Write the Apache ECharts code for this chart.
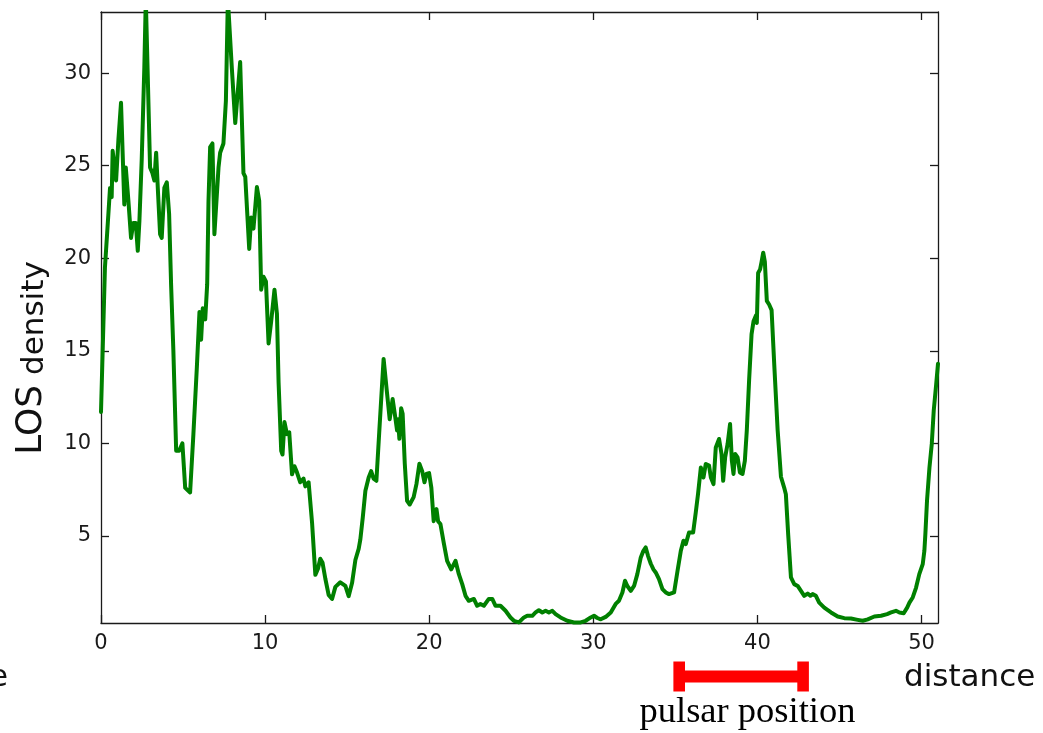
<!DOCTYPE html>
<html>
<head>
<meta charset="utf-8">
<script src="https://cdn.jsdelivr.net/npm/echarts@6/dist/echarts.min.js"></script>
<style>
html,body{margin:0;padding:0;background:#fff;}
#chart{width:1043px;height:733px;}
</style>
</head>
<body>
<div id="chart"></div>
<script>
const distance = [0, 0.24, 0.45, 0.55, 0.65, 0.71, 0.81, 0.92, 0.98, 1.06,
  1.22, 1.30, 1.42, 1.51, 1.60, 1.67, 1.83, 1.97, 2.12, 2.24,
  2.34, 2.48, 2.64, 2.73, 2.85, 2.99, 3.13, 3.25, 3.36, 3.46,
  3.60, 3.70, 3.86, 4.01, 4.15, 4.27, 4.41, 4.58, 4.76, 4.96,
  5.13, 5.43, 5.63, 5.84, 6.00, 6.10, 6.20, 6.35, 6.47, 6.55,
  6.65, 6.79, 6.91, 7.02, 7.16, 7.26, 7.46, 7.61, 7.73, 7.81,
  7.97, 8.18, 8.48, 8.68, 8.79, 9.03, 9.15, 9.29, 9.50, 9.64,
  9.76, 9.90, 10.05, 10.21, 10.37, 10.57, 10.72, 10.82, 10.98, 11.06,
  11.18, 11.33, 11.47, 11.64, 11.79, 11.94, 12.14, 12.34, 12.45, 12.65,
  12.86, 13.06, 13.22, 13.36, 13.50, 13.67, 13.87, 14.08, 14.28, 14.58,
  14.89, 15.09, 15.30, 15.50, 15.70, 15.80, 15.95, 16.11, 16.31, 16.46,
  16.61, 16.78, 16.96, 17.22, 17.43, 17.59, 17.77, 17.90, 18.04, 18.10,
  18.18, 18.29, 18.38, 18.51, 18.65, 18.81, 19.05, 19.22, 19.40, 19.57,
  19.71, 19.83, 19.99, 20.13, 20.27, 20.44, 20.54, 20.68, 20.89, 21.09,
  21.34, 21.60, 21.80, 22.01, 22.21, 22.41, 22.72, 22.92, 23.12, 23.33,
  23.63, 23.84, 24.04, 24.34, 24.65, 24.95, 25.16, 25.46, 25.77, 25.97,
  26.28, 26.48, 26.68, 26.89, 27.09, 27.29, 27.50, 27.70, 28.00, 28.41,
  28.82, 29.23, 29.53, 29.84, 30.04, 30.24, 30.45, 30.75, 31.06, 31.36,
  31.56, 31.77, 31.93, 32.07, 32.28, 32.48, 32.68, 32.89, 33.05, 33.19,
  33.33, 33.50, 33.66, 33.80, 34.00, 34.21, 34.41, 34.61, 34.92, 35.13,
  35.33, 35.49, 35.63, 35.83, 36.08, 36.24, 36.38, 36.55, 36.71, 36.85,
  37.05, 37.16, 37.32, 37.46, 37.66, 37.81, 37.91, 38.03, 38.18, 38.33,
  38.44, 38.54, 38.64, 38.79, 38.93, 39.09, 39.23, 39.35, 39.49, 39.64,
  39.76, 39.90, 39.96, 40.04, 40.16, 40.25, 40.35, 40.45, 40.57, 40.71,
  40.86, 41.02, 41.23, 41.43, 41.63, 41.73, 41.87, 42.04, 42.24, 42.45,
  42.65, 42.85, 43.06, 43.22, 43.36, 43.56, 43.76, 44.07, 44.48, 44.89,
  45.29, 45.70, 46.11, 46.41, 46.72, 47.12, 47.53, 47.90, 48.14, 48.44,
  48.65, 48.91, 49.12, 49.26, 49.46, 49.66, 49.86, 50.07, 50.17, 50.23,
  50.33, 50.48, 50.62, 50.74, 50.89, 51.0];

const density = [11.7, 19.5, 22.4, 23.8, 23.3, 25.8, 25.8, 24.2, 24.2, 26.4,
  28.4, 28.3, 22.9, 24.9, 24.9, 23.1, 21.1, 21.9, 21.9, 20.4,
  22.0, 25.3, 30.3, 34, 34, 24.9, 24.6, 24.2, 25.7, 23.8,
  21.3, 21.1, 23.8, 24.1, 22.4, 18.6, 15.0, 9.6, 9.6, 10.0,
  7.6, 7.35, 10.5, 14.1, 17.1, 15.6, 17.3, 16.7, 18.6, 23.1,
  26.0, 26.2, 21.3, 21.3, 24.9, 25.7, 26.2, 28.5, 34, 34,
  30.3, 27.3, 30.6, 24.6, 24.4, 20.5, 22.2, 21.6, 23.85, 23.1,
  18.3, 19.0, 18.75, 15.4, 16.6, 18.3, 17.0, 13.3, 9.6, 9.4,
  11.15, 10.5, 10.6, 8.33, 8.77, 8.44, 7.9, 8.1, 7.68, 7.9,
  5.72, 2.9, 3.23, 3.77, 3.55, 2.69, 1.82, 1.6, 2.25, 2.5,
  2.3, 1.75, 2.47, 3.7, 4.3, 4.8, 6.0, 7.44, 8.16, 8.5,
  8.1, 7.98, 10.7, 14.56, 12.7, 11.3, 12.4, 11.6, 10.7, 11.3,
  10.25, 11.9, 11.6, 8.9, 6.9, 6.7, 7.1, 7.8, 8.9, 8.5,
  7.9, 8.35, 8.4, 7.6, 5.8, 6.45, 5.8, 5.65, 4.6, 3.66,
  3.2, 3.66, 2.95, 2.4, 1.77, 1.5, 1.6, 1.23, 1.33, 1.23,
  1.6, 1.6, 1.23, 1.23, 0.96, 0.6, 0.42, 0.33, 0.6, 0.69,
  0.69, 0.87, 0.99, 0.87, 0.96, 0.87, 0.96, 0.78, 0.6, 0.42,
  0.33, 0.33, 0.42, 0.6, 0.69, 0.57, 0.5, 0.63, 0.87, 1.33,
  1.5, 1.95, 2.58, 2.3, 2.04, 2.3, 2.94, 3.84, 4.2, 4.38,
  3.93, 3.5, 3.2, 3.03, 2.67, 2.13, 1.95, 1.86, 1.95, 3.12,
  4.2, 4.74, 4.56, 5.19, 5.19, 6.27, 7.28, 8.7, 8.16, 8.89,
  8.8, 8.16, 7.8, 9.78, 10.24, 9.43, 7.98, 9.24, 9.97, 11.05,
  9.06, 8.35, 9.43, 9.24, 8.43, 8.35, 9.06, 10.7, 13.4, 15.9,
  16.6, 16.9, 16.5, 19.2, 19.4, 19.8, 20.3, 19.8, 17.7, 17.5,
  17.2, 14.3, 10.7, 8.2, 7.6, 7.26, 5.1, 2.76, 2.4, 2.3,
  2.04, 1.77, 1.89, 1.77, 1.86, 1.77, 1.4, 1.13, 0.87, 0.65,
  0.56, 0.54, 0.47, 0.42, 0.5, 0.65, 0.69, 0.78, 0.87, 0.96,
  0.87, 0.83, 1.13, 1.4, 1.68, 2.2, 2.94, 3.48, 4.2, 5.1,
  6.9, 8.7, 9.97, 11.77, 13.2, 14.3];

const xTicks = [0, 10, 20, 30, 40, 50];
const yTicks = [5, 10, 15, 20, 25, 30];
const xRange = [0, 51];
const yRange = [0.3, 33.3];
const pulsarRange = [35.23, 42.78];
const labels = { x: 'distance', y1: 'LOS', y2: 'density', left: 'e', pulsar: 'pulsar position' };

const points = distance.map((d, i) => [d, density[i]]);
const frame = { color: '#1a1a1a', width: 1.3 };
const tickFont = { fontSize: 21, color: '#1a1a1a', fontFamily: 'DejaVu Sans' };

function xAxisDef(pos, showLabel) {
  return {
    type: 'value', position: pos, min: xRange[0], max: xRange[1],
    axisLine: { show: true, onZero: false, lineStyle: frame },
    axisTick: { show: true, inside: true, length: 8, customValues: xTicks, lineStyle: frame },
    axisLabel: Object.assign({ show: showLabel, customValues: xTicks, margin: 10 }, tickFont),
    splitLine: { show: false }
  };
}
function yAxisDef(pos, showLabel) {
  return {
    type: 'value', position: pos, min: yRange[0], max: yRange[1],
    axisLine: { show: true, onZero: false, lineStyle: frame },
    axisTick: { show: true, inside: true, length: 8, customValues: yTicks, lineStyle: frame },
    axisLabel: Object.assign({ show: showLabel, customValues: yTicks, margin: 10 }, tickFont),
    splitLine: { show: false }
  };
}

const chart = echarts.init(document.getElementById('chart'), null, { renderer: 'canvas' });
chart.setOption({
  animation: false,
  backgroundColor: '#fff',
  grid: { left: 101, right: 105, top: 12, bottom: 110 },
  xAxis: [xAxisDef('bottom', true), xAxisDef('top', false)],
  yAxis: [yAxisDef('left', true), yAxisDef('right', false)],
  series: [
    {
      type: 'line', data: points, showSymbol: false, symbol: 'none',
      lineStyle: { color: '#008000', width: 4, join: 'round', cap: 'round' },
      clip: true, silent: true
    },
    {
      type: 'custom', clip: false, silent: true,
      data: [[pulsarRange[0], pulsarRange[1]]],
      encode: { x: [0, 1] },
      renderItem: function (params, api) {
        const p0 = api.coord([api.value(0), yRange[0]]);
        const p1 = api.coord([api.value(1), yRange[0]]);
        const cy = p0[1] + 53.5;
        const red = { fill: '#ff0000' };
        return {
          type: 'group',
          children: [
            { type: 'rect', shape: { x: p0[0], y: cy - 5.9, width: p1[0] - p0[0], height: 11.8 }, style: red },
            { type: 'rect', shape: { x: p0[0] - 5.8, y: cy - 15, width: 11.6, height: 30 }, style: red },
            { type: 'rect', shape: { x: p1[0] - 5.8, y: cy - 15, width: 11.6, height: 30 }, style: red }
          ]
        };
      }
    }
  ],
  graphic: [
    { type: 'text', x: 904, y: 678, style: { text: labels.x, fontSize: 31, fontFamily: 'DejaVu Sans', fill: '#111', align: 'left', verticalAlign: 'middle' } },
    { type: 'text', x: 8, y: 678, style: { text: labels.left, fontSize: 31, fontFamily: 'DejaVu Sans', fill: '#111', align: 'right', verticalAlign: 'middle' } },
    { type: 'text', x: 747.5, y: 712, style: { text: labels.pulsar, fontSize: 36.5, fontFamily: 'Liberation Serif', fill: '#000', align: 'center', verticalAlign: 'middle' } },
    {
      type: 'text', x: 32, y: 358, rotation: Math.PI / 2,
      style: {
        text: '{a|' + labels.y1 + '} {b|' + labels.y2 + '}',
        fontSize: 31, fontFamily: 'DejaVu Sans', fill: '#111',
        align: 'center', verticalAlign: 'middle',
        rich: {
          a: { fontSize: 36, fontFamily: 'DejaVu Sans', fill: '#111', verticalAlign: 'bottom' },
          b: { fontSize: 31, fontFamily: 'DejaVu Sans', fill: '#111', verticalAlign: 'bottom' }
        }
      }
    }
  ]
});
</script>
</body>
</html>
